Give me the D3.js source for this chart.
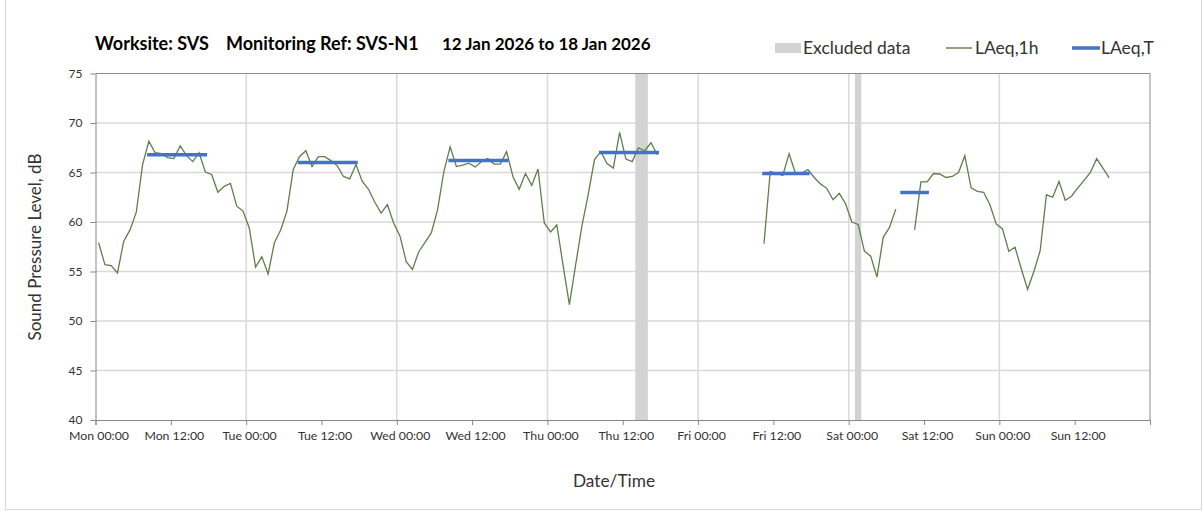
<!DOCTYPE html>
<html><head><meta charset="utf-8">
<script src="https://cdn.jsdelivr.net/npm/d3@7"></script>
<style>
body{margin:0;background:#fff}
text{font-family:Lato,"Open Sans",sans-serif}
</style>
</head><body>
<svg id="chart" width="1203" height="514"></svg>
<script>
// ---------- DATA ----------
const weekStart = "2026-01-12T00:00";
const weekEnd = "2026-01-19T00:00";
// LAeq,1h values, one per hour, plotted at the half hour (null = no data)
const monValues = [57.9,55.7,55.6,54.85,58.05,59.2,61.0,65.8,68.15,67.0,66.9,66.5,66.4,67.7,66.7,66.1,67.0,65.05,64.8,63.0,63.6,63.9,61.6,61.1];
const tueValues = [59.4,55.45,56.5,54.75,57.9,59.2,61.1,65.3,66.6,67.2,65.6,66.6,66.6,66.2,65.7,64.6,64.35,65.8,64.1,63.3,62.0,60.9,61.75,59.9];
const wedValues = [58.6,56.0,55.2,57.0,57.95,58.9,61.25,65.1,67.6,65.6,65.75,65.95,65.55,66.1,66.4,65.85,65.85,67.1,64.6,63.3,64.9,63.7,65.35,59.9];
const thuValues = [59.0,59.7,55.6,51.65,55.7,59.6,62.8,66.3,67.1,65.9,65.45,69.05,66.35,66.1,67.5,67.2,68.0,66.8,null,null,null,null,null,null];
const friValues = [null,null,null,null,null,null,null,null,null,null,57.8,65.1,64.9,64.7,66.9,64.95,64.95,65.3,64.5,63.85,63.4,62.25,62.9,61.85];
const satValues = [60.0,59.75,57.05,56.55,54.45,58.45,59.45,61.3,null,null,59.2,64.05,64.05,64.9,64.85,64.5,64.6,65.0,66.7,63.45,63.1,63.0,61.75,59.8];
const sunValues = [59.3,57.05,57.45,55.25,53.2,55.0,57.1,62.75,62.5,64.1,62.2,62.6,63.45,64.2,65.0,66.4,65.45,64.45];
// LAeq,T daytime averages
const laeqTStarts = ["2026-01-12T08:30","2026-01-13T08:30","2026-01-14T08:30","2026-01-15T08:30","2026-01-16T10:30","2026-01-17T08:30"];
const laeqTEnds   = ["2026-01-12T17:30","2026-01-13T17:30","2026-01-14T17:30","2026-01-15T17:30","2026-01-16T17:30","2026-01-17T12:30"];
const laeqTValues = [66.8,66.02,66.22,67.03,64.9,62.98];
// Excluded data periods
const excludedStarts = ["2026-01-15T14:00","2026-01-17T01:00"];
const excludedEnds   = ["2026-01-15T16:00","2026-01-17T02:00"];
const yTicks = [40,45,50,55,60,65,70,75];
const titleParts = ["Worksite: SVS","Monitoring Ref: SVS-N1","12 Jan 2026 to 18 Jan 2026"];
const legendLabels = ["Excluded data","LAeq,1h","LAeq,T"];

// ---------- BUILD ----------
const parse = d3.timeParse("%Y-%m-%dT%H:%M");
const t0 = parse(weekStart), t1 = parse(weekEnd);
const allValues = [].concat(monValues,tueValues,wedValues,thuValues,friValues,satValues,sunValues);
const hourly = allValues.map((v,i)=>({t:new Date(t0.getTime()+(i+0.5)*3600e3), v}));
const laeqT = laeqTValues.map((v,i)=>({s:parse(laeqTStarts[i]), e:parse(laeqTEnds[i]), v}));
const excluded = excludedStarts.map((s,i)=>({s:parse(s), e:parse(excludedEnds[i])}));

const L=95.5, R=1150, T=73.5, B=420;
const svg = d3.select("#chart");
const x = d3.scaleTime().domain([t0,t1]).range([L,R]);
const y = d3.scaleLinear().domain([40,75]).range([B,T]);

// outer frame
svg.append("rect").attr("x",5.5).attr("y",-2).attr("width",1196).attr("height",511.5)
  .attr("fill","none").attr("stroke","#d9d9d9");

// gridlines
const dayTicks = d3.timeDay.range(t0,t1).slice(1);
svg.append("g").selectAll("line").data(yTicks.filter(d=>d>40&&d<75)).join("line")
  .attr("x1",L).attr("x2",R).attr("y1",d=>y(d)).attr("y2",d=>y(d))
  .attr("stroke","#d9d9d9").attr("stroke-width",1.5);
svg.append("g").selectAll("line").data(dayTicks).join("line")
  .attr("x1",d=>x(d)).attr("x2",d=>x(d)).attr("y1",T).attr("y2",B)
  .attr("stroke","#d9d9d9").attr("stroke-width",1.5);

// excluded bands
svg.append("g").selectAll("rect").data(excluded).join("rect")
  .attr("x",d=>x(d.s)).attr("width",d=>x(d.e)-x(d.s)).attr("y",T).attr("height",B-T)
  .attr("fill","#d3d3d3");

// LAeq,1h line
const line = d3.line().defined(d=>d.v!=null).x(d=>x(d.t)).y(d=>y(d.v));
svg.append("path").datum(hourly).attr("d",line).attr("fill","none")
  .attr("stroke","#5f7f4a").attr("stroke-width",1.3).attr("stroke-linejoin","miter");

// LAeq,T segments
svg.append("g").selectAll("line").data(laeqT).join("line")
  .attr("x1",d=>x(d.s)).attr("x2",d=>x(d.e)).attr("y1",d=>y(d.v)).attr("y2",d=>y(d.v))
  .attr("stroke","#4472c4").attr("stroke-width",3.5).attr("stroke-linecap","square");

// border top/right
svg.append("line").attr("x1",L).attr("x2",R).attr("y1",T).attr("y2",T).attr("stroke","#8c8c8c");
svg.append("line").attr("x1",R).attr("x2",R).attr("y1",T).attr("y2",B).attr("stroke","#8c8c8c");

// axes
const fmt = d3.timeFormat("%a %H:%M");
const xAxis = d3.axisBottom(x).tickValues(d3.timeHour.every(12).range(t0,new Date(t1.getTime()+1)))
  .tickFormat((d,i)=> d.getTime()>=t1.getTime() ? "" : fmt(d)).tickSizeOuter(0).tickSize(5).tickPadding(6);
const gx = svg.append("g").attr("transform",`translate(0,${B})`).call(xAxis);
gx.select(".domain").attr("stroke","#868686");
gx.selectAll(".tick line").attr("stroke","#868686");
gx.selectAll(".tick text").attr("fill","#333").attr("font-size","12.3px").attr("dx","3")
  .style("font-family","Lato,'Open Sans',sans-serif");

const yAxis = d3.axisLeft(y).tickValues(yTicks).tickSize(5).tickSizeOuter(0).tickPadding(8);
const gy = svg.append("g").attr("transform",`translate(${L},0)`).call(yAxis);
gy.select(".domain").attr("stroke","#868686");
gy.selectAll(".tick line").attr("stroke","#868686");
gy.selectAll(".tick text").attr("fill","#333").attr("font-size","12px")
  .style("font-family","Lato,'Open Sans',sans-serif");

// titles
const titleX = [95,226,442];
const titleSize = [18,18,17];
svg.append("g").selectAll("text").data(titleParts).join("text")
  .attr("x",(d,i)=>titleX[i]).attr("y",50).text(d=>d)
  .attr("font-size",(d,i)=>titleSize[i]+"px").attr("font-weight","bold").attr("fill","#000");

svg.append("text").attr("transform","translate(41,247) rotate(-90)").attr("text-anchor","middle")
  .attr("font-size","17px").attr("fill","#333").text("Sound Pressure Level, dB");
svg.append("text").attr("x",614).attr("y",487).attr("text-anchor","middle")
  .attr("font-size","17.3px").attr("fill","#333").text("Date/Time");

// legend
const lg = svg.append("g");
lg.append("rect").attr("x",775).attr("y",43).attr("width",26).attr("height",10).attr("fill","#d3d3d3");
lg.append("text").attr("x",803).attr("y",54).attr("font-size","17.5px").attr("fill","#333").text(legendLabels[0]);
lg.append("line").attr("x1",946).attr("x2",972).attr("y1",48).attr("y2",48).attr("stroke","#4f7335").attr("stroke-width",1.3);
lg.append("text").attr("x",975).attr("y",54).attr("font-size","17.5px").attr("fill","#333").text(legendLabels[1]);
lg.append("line").attr("x1",1072).attr("x2",1100).attr("y1",48).attr("y2",48).attr("stroke","#4472c4").attr("stroke-width",3.5);
lg.append("text").attr("x",1101).attr("y",54).attr("font-size","17.5px").attr("fill","#333").text(legendLabels[2]);
</script>
</body></html>
